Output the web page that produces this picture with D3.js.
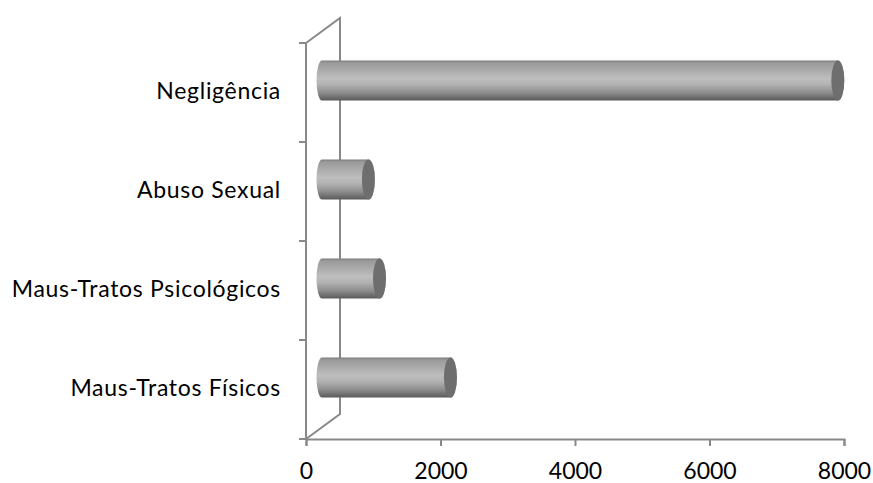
<!DOCTYPE html>
<html>
<head>
<meta charset="utf-8">
<script src="https://cdn.jsdelivr.net/npm/d3@7/dist/d3.min.js"></script>
<style>
  html, body { margin: 0; padding: 0; background: #fff; }
  svg text { font-family: Lato, "Open Sans", sans-serif; fill: #000; }
</style>
</head>
<body>
<svg id="chart" width="873" height="483"></svg>
<script>
// Categories listed top to bottom
const categories = ["Negligência", "Abuso Sexual", "Maus-Tratos Psicológicos", "Maus-Tratos Físicos"];
const values = [7670, 690, 855, 1910];
const tickValues = [0, 2000, 4000, 6000, 8000];

const svg = d3.select("#chart");

const plot = { left: 306, right: 844, top: 43, bottom: 439 };
const wall = { dx: 34, dy: -25 };     // depth of the 3D back wall
const barShift = { dx: 16, dy: -12 }; // bars sit a little behind the front plane
const axisColor = "#898989";
const fontSize = 23;

const x = d3.scaleLinear().domain([0, 8000]).range([plot.left, plot.right]);
const y = d3.scaleBand().domain(categories).range([plot.top, plot.bottom]).paddingInner(0).paddingOuter(0);

// Cylinder shading
const defs = svg.append("defs");
const grad = defs.append("linearGradient")
  .attr("id", "cyl").attr("x1", 0).attr("y1", 0).attr("x2", 0).attr("y2", 1);
[
  [0.00, "#7c7c7c"],
  [0.06, "#9a9a9a"],
  [0.25, "#ababab"],
  [0.45, "#bebebe"],
  [0.60, "#b2b2b2"],
  [0.80, "#8e8e8e"],
  [0.95, "#676767"],
  [1.00, "#5a5a5a"]
].forEach(([o, c]) => grad.append("stop").attr("offset", o).attr("stop-color", c));

// Side wall (back plane edges)
const g = svg.append("g");
g.append("path")
  .attr("d", `M${plot.left},${plot.top} L${plot.left + wall.dx},${plot.top + wall.dy}
              L${plot.left + wall.dx},${plot.bottom + wall.dy} L${plot.left},${plot.bottom}`)
  .attr("fill", "none").attr("stroke", axisColor).attr("stroke-width", 2);

// Front vertical axis with tick marks at band boundaries
g.append("line")
  .attr("x1", plot.left).attr("x2", plot.left)
  .attr("y1", plot.top).attr("y2", plot.bottom)
  .attr("stroke", axisColor).attr("stroke-width", 2);
const bounds = categories.map(c => y(c)).concat([plot.bottom]);
g.selectAll(".ytick").data(bounds).join("line")
  .attr("x1", plot.left - 7).attr("x2", plot.left)
  .attr("y1", d => d).attr("y2", d => d)
  .attr("stroke", axisColor).attr("stroke-width", 2);

// Bottom axis
const xAxis = d3.axisBottom(x).tickValues(tickValues).tickSize(7).tickPadding(17).tickFormat(d3.format("d"));
const xg = svg.append("g").attr("transform", `translate(0,${plot.bottom})`).call(xAxis);
xg.select(".domain").attr("stroke", axisColor).attr("stroke-width", 2);
xg.selectAll(".tick line").attr("stroke", axisColor).attr("stroke-width", 2);
xg.selectAll(".tick text").attr("font-size", fontSize).attr("font-family", "Lato, sans-serif").attr("fill", "#000");

// Category labels
svg.selectAll(".cat").data(categories).join("text")
  .attr("x", 281)
  .attr("y", d => y(d) + y.bandwidth() / 2 + 6.5)
  .attr("text-anchor", "end")
  .attr("font-size", fontSize)
  .attr("letter-spacing", 0.7)
  .text(d => d);

// Cylinders
const ry = 20, rx = 6.5;
const bars = svg.selectAll(".bar").data(categories.map((c, i) => ({ c, v: values[i] }))).join("g");
bars.append("path")
  .attr("d", d => {
    const x0 = x(0) + barShift.dx, x1 = x(d.v) + barShift.dx;
    const cy = y(d.c) + y.bandwidth() / 2 + barShift.dy;
    return `M${x0},${cy - ry} L${x1},${cy - ry}
            A${rx},${ry} 0 0 1 ${x1},${cy + ry}
            L${x0},${cy + ry}
            A${rx - 1},${ry} 0 0 1 ${x0},${cy - ry} Z`;
  })
  .attr("fill", "url(#cyl)");
bars.append("ellipse")
  .attr("cx", d => x(d.v) + barShift.dx)
  .attr("cy", d => y(d.c) + y.bandwidth() / 2 + barShift.dy)
  .attr("rx", rx).attr("ry", ry)
  .attr("fill", "#6e6e6e");
</script>
</body>
</html>
